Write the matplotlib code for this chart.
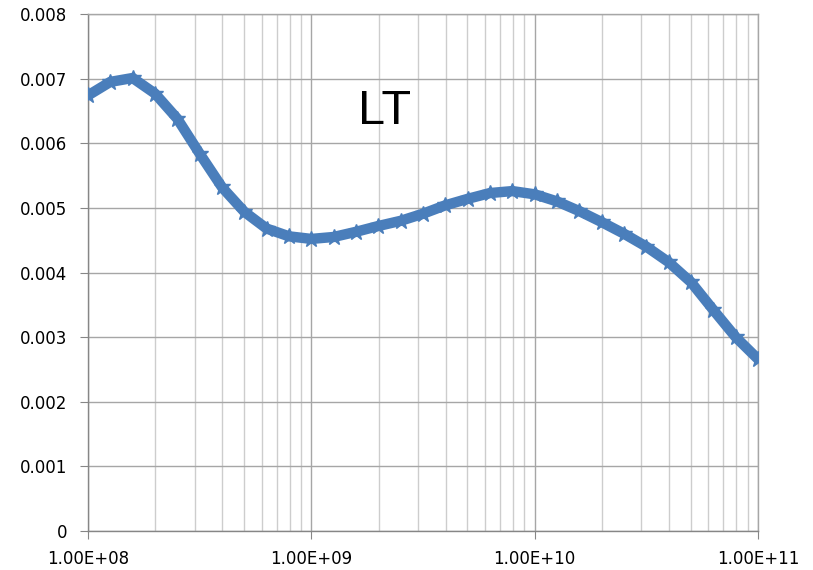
import numpy as np
import matplotlib
matplotlib.use("Agg")
from matplotlib import pyplot as plt
from matplotlib.ticker import FixedLocator, NullFormatter

# values (x in Hz, log spaced, y dimensionless)
log_freq = [8.0, 8.1, 8.2, 8.3, 8.4, 8.5, 8.6, 8.7, 8.8, 8.9,
            9.0, 9.1, 9.2, 9.3, 9.4, 9.5, 9.6, 9.7, 9.8, 9.9,
            10.0, 10.1, 10.2, 10.3, 10.4, 10.5, 10.6, 10.7, 10.8, 10.9, 11.0]
lt_values = [6.74, 6.95, 7.01, 6.77, 6.38, 5.84, 5.32, 4.94, 4.68, 4.56,
             4.52, 4.55, 4.63, 4.72, 4.80, 4.91, 5.04, 5.14, 5.23, 5.26,
             5.21, 5.10, 4.95, 4.78, 4.60, 4.40, 4.16, 3.85, 3.42, 3.00, 2.66]
y_ticks = [0, 0.001, 0.002, 0.003, 0.004, 0.005, 0.006, 0.007, 0.008]
x_ticks = [1e8, 1e9, 1e10, 1e11]
x_labels = ["1.00E+08", "1.00E+09", "1.00E+10", "1.00E+11"]

freq = 10.0 ** np.array(log_freq)
lt = np.array(lt_values) * 1e-3

blue = "#4A7EBB"
grid_major = "#A6A6A6"
grid_minor = "#CDCDCD"

fig = plt.figure(figsize=(8.13, 5.70), dpi=100)
ax = fig.add_axes([0.1082, 0.0684, 0.8242, 0.907])

ax.plot(freq, lt, color=blue, lw=7.5, marker="*", ms=12, mec=blue, mfc=blue,
        solid_capstyle="round", solid_joinstyle="round", zorder=3)

ax.set_xscale("log")
ax.set_xlim(1e8, 1e11)
ax.set_ylim(0, 0.008)

ax.xaxis.set_major_locator(FixedLocator(x_ticks))
ax.set_xticklabels(x_labels)
minors = [m * 10.0 ** d for d in (8, 9, 10) for m in range(2, 10)]
ax.xaxis.set_minor_locator(FixedLocator(minors))
ax.xaxis.set_minor_formatter(NullFormatter())
ax.set_yticks(y_ticks)
ax.set_yticklabels(["0"] + [f"{v:.3f}" for v in y_ticks[1:]])

ax.grid(True, which="major", color=grid_major, lw=1.0, zorder=0)
ax.grid(True, which="minor", axis="x", color=grid_minor, lw=1.0, zorder=0)
ax.set_axisbelow(True)

for side in ("left", "bottom"):
    ax.spines[side].set_color("#868686")
    ax.spines[side].set_linewidth(1.0)
for side in ("top", "right"):
    ax.spines[side].set_color(grid_major)
    ax.spines[side].set_linewidth(1.0)

ax.tick_params(axis="both", which="major", direction="out", length=5.8,
               color="#868686", labelsize=12, labelcolor="black")
ax.tick_params(axis="x", which="minor", length=0)
ax.tick_params(axis="x", pad=8)
ax.tick_params(axis="y", pad=9)

ax.text(10 ** 9.33, 0.00649, "LT", fontsize=35, family="Liberation Sans",
        ha="center", va="center", color="black")

fig.savefig("out.png", dpi=100)
